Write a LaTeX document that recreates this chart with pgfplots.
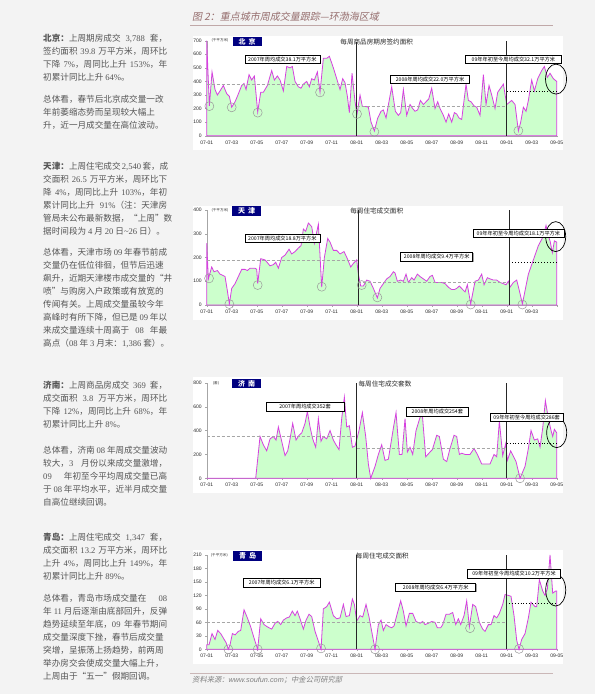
\documentclass[border=0pt]{standalone}
\usepackage{pgfplots}
\pgfplotsset{compat=1.18}
\usepackage{fontspec}
\setmainfont{Liberation Sans}
\newfontfamily\cjk{Noto Sans CJK SC}
\newfontfamily\cjkit[FakeSlant=0.2]{Noto Sans CJK SC}
\newfontfamily\lat{Liberation Serif}
\usetikzlibrary{shadows}
\definecolor{pagebg}{RGB}{243,243,243}
\definecolor{areafill}{RGB}{204,255,204}
\definecolor{lineclr}{RGB}{214,64,224}
\definecolor{navybox}{RGB}{0,0,128}
\definecolor{txt}{RGB}{85,85,85}
\definecolor{titleclr}{RGB}{150,110,110}
\XeTeXinterchartokenstate=1
\XeTeXinterchartoks 1 1 = {\hskip 0pt plus 1pt\relax}
\XeTeXinterchartoks 1 3 = {\hskip 0pt plus 1pt\relax}
\XeTeXinterchartoks 3 1 = {\hskip 0pt plus 1pt\relax}
\XeTeXinterchartoks 1 2 = {\hskip 0pt plus 1pt\relax}
\XeTeXinterchartoks 2 1 = {\hskip 0pt plus 1pt\relax}
\newcommand\nm[1]{{\lat #1}}
\newcommand\jl[2]{\node[anchor=base west,inner sep=0pt] at (43pt,-#1pt) {\makebox[124pt][s]{#2}};}
\newcommand\tl[2]{\node[anchor=base west,inner sep=0pt] at (43pt,-#1pt) {#2};}
\newcommand\dip[2]{\draw[dip] (axis cs:#1,#2) circle[radius=4.5pt];}
\pgfplotsset{
 city/.style={
  scale only axis, width=350pt, anchor=south west,
  xmin=50, xmax=1100, ymin=0,
  axis lines*=left, axis line style={draw=gray!70, -},
  xtick={50,125,...,1100},
  xticklabels={07-01,07-03,07-05,07-07,07-09,07-11,08-01,08-03,08-05,08-07,08-09,08-11,09-01,09-03,09-05},
  tick style={draw=gray!70}, major tick length=1.5pt, tick align=outside,
  ticklabel style={font=\fontsize{5}{6}\selectfont, text=black!85},
  /pgf/number format/assume math mode=true,
  clip=false,
 },
 area/.style={fill=areafill, draw=lineclr, line width=0.8pt},
}
\tikzset{
 abox/.style={draw=black, fill=white, line width=0.6pt, font=\cjk\fontsize{5.2}{6}\selectfont, inner sep=1pt, minimum height=8.5pt, drop shadow={shadow xshift=0.8pt, shadow yshift=-0.8pt, fill=gray!70, opacity=1}},
 cbox/.style={fill=navybox, text=white, font=\cjk\bfseries\fontsize{7}{8}\selectfont, minimum width=29pt, minimum height=9.5pt, inner sep=0pt},
 ctitle/.style={font=\cjk\fontsize{6.6}{7}\selectfont, text=black!85},
 unit/.style={font=\cjk\fontsize{3.6}{4}\selectfont, text=black!80},
 avg0/.style={gray!70, dash pattern=on 3pt off 2pt, line width=0.6pt},
 avg9/.style={black, dotted, line width=0.9pt},
 vline/.style={black!85, line width=0.7pt},
 dip/.style={gray!80, line width=0.5pt},
 big/.style={black, line width=0.7pt},
}
\begin{document}
\begin{tikzpicture}
\fill[pagebg] (0pt,0pt) rectangle (595pt,-694pt);
% header
\node[anchor=west, font=\cjkit\fontsize{10}{11}\selectfont, text=titleclr, inner sep=0pt] at (192pt,-16.7pt) {图 2：重点城市周成交量跟踪—环渤海区域};
\draw[titleclr!60, line width=0.7pt] (190pt,-25pt) -- (553pt,-25pt);
% footer
\draw[titleclr!50, line width=0.6pt] (190pt,-673.3pt) -- (553pt,-673.3pt);
\node[anchor=west, font=\cjkit\fontsize{7.3}{8}\selectfont, text=gray, inner sep=0pt] at (192pt,-679.5pt) {资料来源：{\itshape\rmfamily www.soufun.com}；中金公司研究部};
% white chart panels
\fill[white] (193pt,-36pt) rectangle (563pt,-150pt);
\fill[white] (193pt,-206pt) rectangle (563pt,-320pt);
\fill[white] (193pt,-377pt) rectangle (563pt,-493pt);
\fill[white] (193pt,-550pt) rectangle (563pt,-664pt);
% left column text
\begin{scope}[font=\cjk\fontsize{8.6}{13}\selectfont, text=txt]
\jl{41}{{\bfseries 北京：}上周期房成交 \nm{3,788} 套，}
\jl{54}{签约面积 \nm{39.8} 万平方米，周环比}
\jl{67}{下降 \nm{7\%}，周同比上升 \nm{153\%}，年}
\tl{80}{初累计同比上升 \nm{64\%}。}
\jl{102}{总体看，春节后北京成交量一改}
\jl{115}{年前萎缩态势而呈现较大幅上}
\tl{128}{升，近一月成交量在高位波动。}
\jl{169}{{\bfseries 天津：}上周住宅成交 \nm{2,540} 套，成}
\jl{182}{交面积 \nm{26.5} 万平方米，周环比下}
\jl{195}{降 \nm{4\%}，周同比上升 \nm{103\%}，年初}
\jl{208}{累计同比上升 \nm{91\%}（注：天津房}
\jl{221}{管局未公布最新数据，“上周”数}
\tl{234}{据时间段为 \nm{4} 月 \nm{20} 日\nm{\textasciitilde}\nm{26} 日）。}
\jl{255}{总体看，天津市场 \nm{09} 年春节前成}
\jl{268}{交量仍在低位徘徊，但节后迅速}
\jl{281}{飙升，近期天津楼市成交量的“井}
\jl{294}{喷”与购房入户政策或有放宽的}
\jl{307}{传闻有关。上周成交量虽较今年}
\jl{320}{高峰时有所下降，但已是 \nm{09} 年以}
\jl{333}{来成交量连续十周高于 \nm{08} 年最}
\tl{346}{高点（\nm{08} 年 \nm{3} 月末：\nm{1,386} 套）。}
\jl{388}{{\bfseries 济南：}上周商品房成交 \nm{369} 套，}
\jl{401}{成交面积 \nm{3.8} 万平方米，周环比}
\jl{414}{下降 \nm{12\%}，周同比上升 \nm{68\%}，年}
\tl{427}{初累计同比上升 \nm{8\%}。}
\jl{453}{总体看，济南 \nm{08} 年周成交量波动}
\jl{466}{较大，\nm{3} 月份以来成交量激增，}
\jl{479}{\nm{09} 年初至今平均周成交量已高}
\jl{492}{于 \nm{08} 年平均水平，近半月成交量}
\tl{505}{自高位继续回调。}
\jl{540}{{\bfseries 青岛：}上周住宅成交 \nm{1,347} 套，}
\jl{553}{成交面积 \nm{13.2} 万平方米，周环比}
\jl{566}{上升 \nm{4\%}，周同比上升 \nm{149\%}，年}
\tl{579}{初累计同比上升 \nm{89\%}。}
\jl{601}{总体看，青岛市场成交量在 \nm{08}}
\jl{614}{年 \nm{11} 月后逐渐由底部回升，反弹}
\jl{627}{趋势延续至年底，\nm{09} 年春节期间}
\jl{640}{成交量深度下挫，春节后成交量}
\jl{653}{突增，呈振荡上扬趋势，前两周}
\jl{666}{举办房交会使成交量大幅上升，}
\tl{679}{上周由于“五一”假期回调。}
\end{scope}
% ---------- Beijing ----------
\begin{axis}[city, at={(206.7pt,-135.7pt)}, height=95pt, ymax=700, ytick={0,100,...,700}]
\addplot[area] coordinates {(50,700)(58,220)(66,470)(75,340)(82,300)(90,330)(100,370)(110,310)(118,290)(125,210)(135,250)(142,290)(155,370)(162,385)(168,340)(177,450)(185,410)(193,440)(203,175)(212,320)(220,320)(232,370)(245,480)(253,410)(262,440)(270,410)(280,330)(290,510)(300,500)(307,510)(315,400)(325,360)(333,350)(340,380)(350,400)(358,360)(365,420)(373,410)(382,470)(390,320)(400,570)(410,570)(418,585)(430,500)(440,420)(450,340)(458,420)(465,390)(472,290)(478,170)(486,460)(495,250)(501,160)(510,300)(517,215)(528,215)(535,210)(543,100)(553,35)(563,130)(573,180)(580,190)(588,130)(596,240)(605,360)(616,180)(625,150)(632,170)(640,340)(650,150)(660,230)(668,200)(675,180)(683,190)(691,260)(700,230)(708,250)(716,270)(725,350)(735,200)(743,250)(750,200)(760,150)(768,100)(776,160)(785,100)(793,170)(800,160)(807,130)(815,120)(828,380)(835,260)(843,250)(852,220)(860,210)(870,150)(880,450)(888,230)(897,370)(905,300)(915,200)(923,320)(940,380)(950,230)(955,240)(965,260)(975,230)(985,35)(992,100)(1000,210)(1008,180)(1015,260)(1025,410)(1033,330)(1043,420)(1055,480)(1063,510)(1072,430)(1080,460)(1090,420)(1100,400)} \closedcycle;
\draw[avg0] (axis cs:50,380) -- (axis cs:500,380);
\draw[avg0] (axis cs:500,220) -- (axis cs:950,220);
\draw[avg9] (axis cs:950,325) -- (axis cs:1100,325);
\draw[vline] (axis cs:500,0) -- (axis cs:500,690);
\draw[vline] (axis cs:950,0) -- (axis cs:950,700);
\dip{58}{218}\dip{125}{209}\dip{203}{170}\dip{390}{319}\dip{501}{160}\dip{553}{29}\dip{985}{37}
\draw[big] (axis cs:1098,417) ellipse[x radius=10.5pt, y radius=15pt];
\node[abox, minimum width=75pt] at (axis cs:277,562) {2007年周均成交38.1万平方米};
\node[abox, minimum width=79pt] at (axis cs:720,415) {2008年周均成交22.0万平方米};
\node[abox, minimum width=96pt] at (axis cs:970,562) {09年年初至今周均成交32.1万平方米};
\node[ctitle] at (axis cs:560,692) {每周商品房期房签约面积};
\node[cbox] at (axis cs:171.5,695) {北\hspace{3pt}京};
\node[unit] at (axis cs:90,700) {(千平方米)};
\end{axis}
% ---------- Tianjin ----------
\begin{axis}[city, at={(206.7pt,-305pt)}, height=95pt, ymax=400, ytick={0,100,...,400},
 xticklabels={07-01,07-03,07-05,07-07,07-09,07-11,08-01,08-03,08-05,08-07,08-09,08-11,09-01,09-03,{}}]
\addplot[area] coordinates {(50,260)(55,110)(65,160)(72,140)(82,145)(90,130)(98,125)(105,120)(112,60)(118,5)(125,70)(135,90)(145,120)(155,150)(165,150)(172,145)(180,155)(195,155)(200,150)(203,90)(212,195)(225,190)(240,165)(250,170)(257,180)(265,155)(275,200)(285,210)(297,235)(305,215)(315,225)(325,240)(333,250)(340,320)(347,310)(355,345)(365,330)(373,260)(385,340)(395,75)(403,200)(413,280)(420,265)(430,230)(440,230)(450,215)(462,225)(472,195)(482,160)(490,175)(500,190)(505,130)(512,80)(520,80)(530,105)(540,100)(550,70)(562,30)(570,70)(580,90)(590,110)(600,120)(610,140)(615,135)(622,100)(632,105)(640,100)(648,130)(655,95)(665,115)(672,105)(682,130)(690,120)(700,110)(710,100)(720,120)(727,125)(735,95)(745,95)(755,95)(765,90)(775,75)(785,65)(793,65)(800,70)(808,80)(818,65)(825,55)(832,85)(842,5)(855,100)(865,105)(875,130)(882,85)(892,115)(900,110)(910,105)(920,105)(930,95)(940,90)(948,85)(955,100)(960,75)(970,95)(980,105)(988,60)(997,5)(1005,60)(1015,130)(1025,170)(1035,210)(1045,250)(1060,290)(1068,335)(1075,290)(1080,270)(1087,220)(1093,270)(1100,265)} \closedcycle;
\draw[avg0] (axis cs:50,190) -- (axis cs:505,190);
\draw[avg0] (axis cs:505,95) -- (axis cs:958,95);
\draw[avg9] (axis cs:958,180) -- (axis cs:1100,180);
\draw[vline] (axis cs:505,0) -- (axis cs:505,400);
\draw[vline] (axis cs:958,0) -- (axis cs:958,400);
\dip{57}{112}\dip{118}{4}\dip{203}{84}\dip{395}{77}\dip{515}{84}\dip{562}{32}\dip{842}{2}\dip{997}{2}
\draw[big] (axis cs:1097,288) ellipse[x radius=10pt, y radius=15pt];
\node[abox, minimum width=75pt] at (axis cs:277,281) {2007年周均成交18.8万平方米};
\node[abox, minimum width=72pt] at (axis cs:740,204) {2008年周均成交9.4万平方米};
\node[abox, minimum width=91pt] at (axis cs:985,302) {09年年初至今周均成交18.1万平方米};
\node[ctitle] at (axis cs:560,397) {每周住宅成交面积};
\node[cbox] at (axis cs:170,396) {天\hspace{3pt}津};
\node[unit] at (axis cs:90,400) {(千平方米)};
\end{axis}
% ---------- Jinan ----------
\begin{axis}[city, at={(206.7pt,-478.3pt)}, height=95.6pt, ymax=800, ytick={0,200,...,800}]
\addplot[area] coordinates {(50,0)(197,0)(210,350)(220,280)(230,230)(240,330)(250,350)(258,320)(265,430)(275,310)(285,190)(293,230)(300,330)(308,460)(318,320)(327,360)(335,380)(345,460)(352,560)(360,430)(368,330)(377,260)(385,500)(393,310)(400,350)(410,330)(420,400)(430,320)(438,280)(447,240)(455,500)(463,680)(470,430)(478,440)(487,260)(495,270)(507,400)(517,550)(527,350)(535,120)(542,0)(555,100)(565,200)(575,280)(585,150)(595,160)(610,420)(618,550)(628,200)(636,200)(645,500)(652,220)(660,260)(668,200)(678,400)(690,510)(697,530)(707,180)(720,220)(727,240)(740,360)(748,350)(760,160)(770,140)(780,250)(792,360)(800,350)(808,200)(815,210)(825,200)(840,200)(852,250)(862,200)(875,120)(890,120)(900,120)(912,200)(920,180)(928,480)(938,190)(947,290)(952,150)(962,230)(978,140)(990,0)(1005,100)(1015,250)(1023,400)(1033,320)(1043,330)(1050,260)(1058,420)(1066,650)(1075,500)(1083,400)(1088,350)(1093,410)(1100,380)} \closedcycle;
\draw[avg0] (axis cs:50,352) -- (axis cs:500,352);
\draw[avg0] (axis cs:500,254) -- (axis cs:950,254);
\draw[avg9] (axis cs:950,290) -- (axis cs:1100,290);
\draw[vline] (axis cs:500,0) -- (axis cs:500,800);
\draw[vline] (axis cs:950,0) -- (axis cs:950,800);
\dip{990}{0}
\draw[big] (axis cs:1100,382) ellipse[x radius=10pt, y radius=15pt];
\node[abox, minimum width=78pt] at (axis cs:345,599) {2007年周均成交352套};
\node[abox, minimum width=62pt] at (axis cs:742,557) {2008年周均成交254套};
\node[abox, minimum width=73pt] at (axis cs:1010,510) {09年年初至今周均成交286套};
\node[ctitle] at (axis cs:585,788) {每周住宅成交套数};
\node[cbox] at (axis cs:170,794) {济\hspace{3pt}南};
\node[unit] at (axis cs:78,794) {(套)};
\end{axis}
% ---------- Qingdao ----------
\begin{axis}[city, at={(206.7pt,-649.3pt)}, height=94.3pt, ymax=210, ytick={0,30,...,210}]
\addplot[area] coordinates {(50,10)(57,10)(66,35)(75,22)(83,42)(92,35)(100,25)(108,15)(115,0)(120,10)(127,35)(135,32)(145,40)(152,42)(162,88)(172,70)(182,50)(192,25)(203,0)(212,68)(222,55)(232,50)(245,45)(255,58)(263,62)(272,55)(280,65)(290,70)(298,72)(307,85)(315,75)(322,85)(330,68)(340,45)(348,65)(357,78)(365,73)(375,40)(393,0)(400,90)(410,95)(418,105)(430,75)(440,68)(450,70)(460,100)(468,73)(478,75)(487,112)(493,100)(500,63)(510,75)(518,72)(528,100)(537,72)(545,40)(555,0)(565,55)(573,65)(580,42)(588,55)(598,50)(605,48)(612,52)(620,75)(632,108)(640,85)(648,52)(658,80)(668,80)(678,62)(690,58)(698,62)(705,55)(715,58)(725,62)(735,60)(742,48)(752,48)(758,55)(768,78)(778,78)(788,82)(797,55)(805,68)(812,55)(822,75)(830,108)(838,50)(848,100)(857,95)(868,60)(878,45)(885,40)(895,55)(903,55)(912,75)(920,70)(928,80)(938,100)(945,122)(955,120)(963,118)(972,75)(980,20)(987,0)(995,22)(1005,35)(1015,70)(1023,105)(1035,95)(1040,95)(1048,155)(1058,130)(1065,120)(1072,135)(1080,210)(1088,125)(1097,130)(1100,130)} \closedcycle;
\draw[avg0] (axis cs:50,61) -- (axis cs:948,61);
\draw[avg9] (axis cs:948,102) -- (axis cs:1100,102);
\draw[vline] (axis cs:500,0) -- (axis cs:500,210);
\draw[vline] (axis cs:948,0) -- (axis cs:948,210);
\dip{115}{0}\dip{203}{0}\dip{393}{2}\dip{555}{0}\dip{840}{47}\dip{987}{1}
\draw[big] (axis cs:1097,132) ellipse[x radius=10pt, y radius=16pt];
\node[abox, minimum width=77pt] at (axis cs:275,148) {2007年周均成交6.1万平方米};
\node[abox, minimum width=80pt] at (axis cs:737,138) {2008年周均成交6.4万平方米};
\node[abox, minimum width=93pt] at (axis cs:972,168) {09年年初至今周均成交10.2万平方米};
\node[ctitle] at (axis cs:577,208) {每周住宅成交面积};
\node[cbox] at (axis cs:173,208) {青\hspace{3pt}岛};
\node[unit] at (axis cs:88,210) {(千平方米)};
\end{axis}
\pgfresetboundingbox
\useasboundingbox (0pt,0pt) rectangle (595pt,-694pt);
\end{tikzpicture}
\end{document}
